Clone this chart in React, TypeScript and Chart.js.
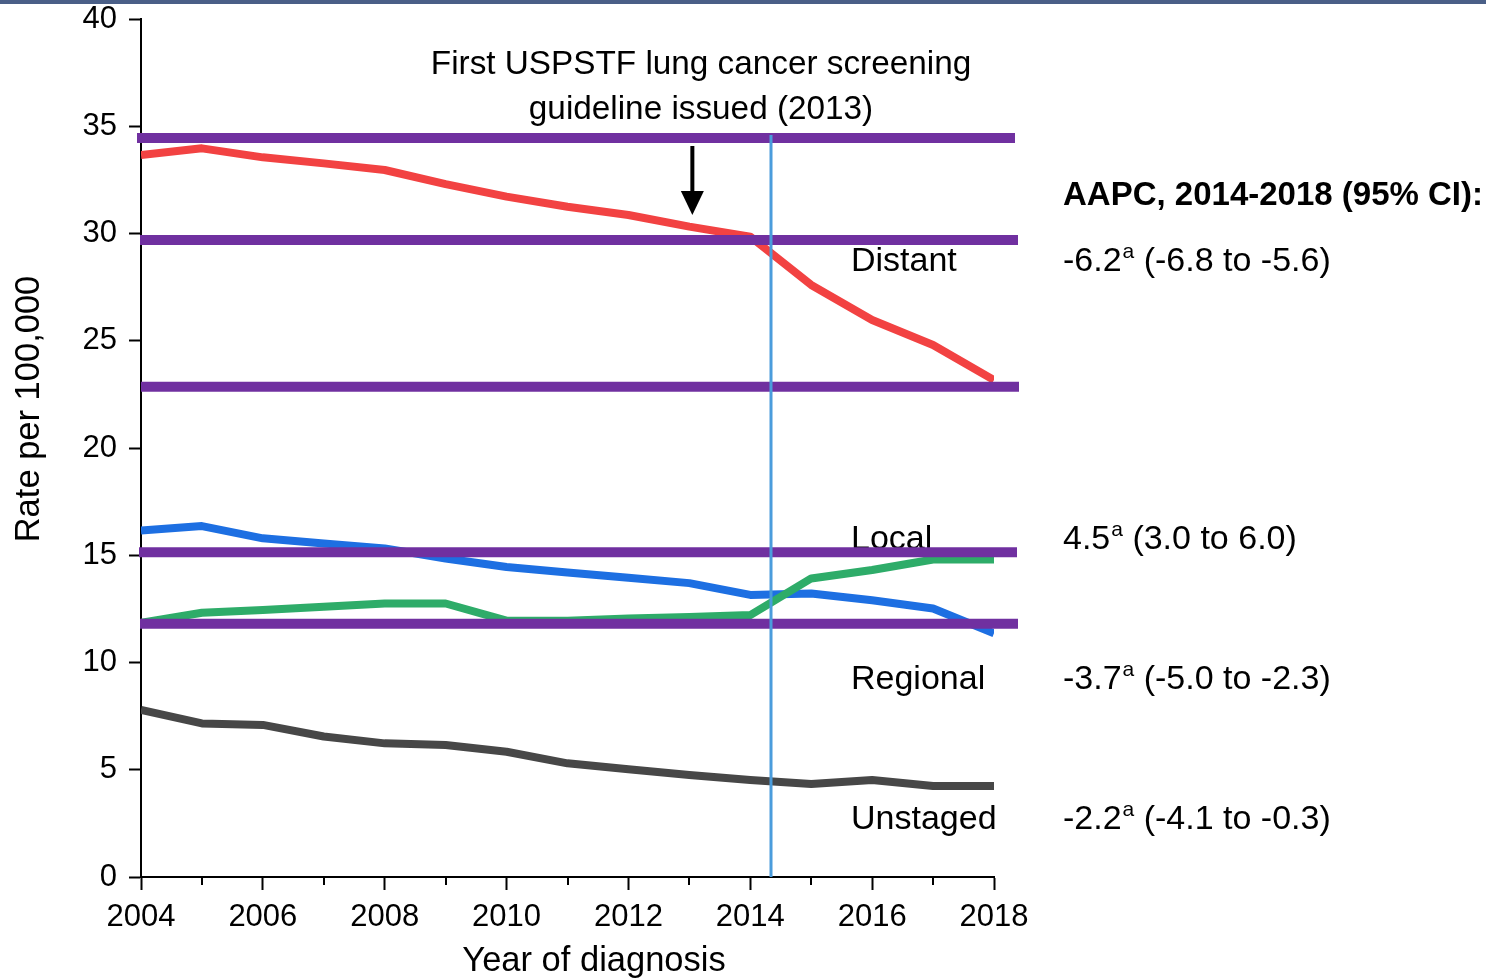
import React, { useEffect, useRef } from "react";
import { Chart, registerables } from "chart.js";

Chart.register(...registerables);

// ---------------- DATA ----------------
const years = [2004, 2005, 2006, 2007, 2008, 2009, 2010, 2011, 2012, 2013, 2014, 2015, 2016, 2017, 2018];
const distant = [33.66, 33.97, 33.55, 33.27, 32.96, 32.3, 31.72, 31.25, 30.86, 30.32, 29.85, 27.6, 25.97, 24.8, 23.17];
const local = [16.15, 16.36, 15.79, 15.55, 15.32, 14.85, 14.45, 14.2, 13.95, 13.7, 13.15, 13.22, 12.9, 12.52, 11.36];
const regional = [11.85, 12.32, 12.45, 12.6, 12.75, 12.75, 11.95, 11.95, 12.05, 12.12, 12.21, 13.92, 14.31, 14.8, 14.8];
const unstaged = [7.79, 7.16, 7.09, 6.55, 6.23, 6.15, 5.84, 5.3, 5.02, 4.76, 4.52, 4.34, 4.52, 4.24, 4.24];

const referenceLevels = [34.45, 29.7, 22.86, 15.14, 11.81];
const markerYear = 2014.34;
const guidelineYear = 2013;

const stageNames = ["Distant", "Local", "Regional", "Unstaged"];
const aapcValues = ["-6.2", "4.5", "-3.7", "-2.2"];
const aapcIntervals = ["(-6.8 to -5.6)", "(3.0 to 6.0)", "(-5.0 to -2.3)", "(-4.1 to -0.3)"];
const aapcHeader = "AAPC, 2014-2018 (95% CI):";
const annotationLines = ["First USPSTF lung cancer screening", "guideline issued (2013)"];
const xTitle = "Year of diagnosis";
const yTitle = "Rate per 100,000";

// ---------------- LAYOUT / STYLE ----------------
const FONT = '"Liberation Sans", Arial, Helvetica, sans-serif';
const TEXT_SIZE = 34;
const NOTE_SIZE = 33.3;
const HEADER_SIZE = 33;
const TITLE_SIZE = 34.5;
const TICK_SIZE = 31;
const STAGE_LABEL_X = 851;
const STAGE_BASELINES = [271, 549, 689, 829];
const RIGHT_TEXT_X = 1063;
const HEADER_BASELINE = 205;
const REF_X: [number, number][] = [
  [137, 1015],
  [140, 1018],
  [141, 1019],
  [139, 1017],
  [140, 1018],
];

const overlayPlugin = {
  id: "overlay",
  afterDatasetsDraw(chart: any) {
    const { ctx, chartArea, scales } = chart;
    const x = scales.x;
    const y = scales.y;
    ctx.save();

    // minor x ticks (odd years)
    ctx.strokeStyle = "#000";
    ctx.lineWidth = 2;
    years.forEach((yr) => {
      if (yr % 2 === 1) {
        const px = Math.round(x.getPixelForValue(yr));
        ctx.beginPath();
        ctx.moveTo(px, chartArea.bottom);
        ctx.lineTo(px, chartArea.bottom + 8);
        ctx.stroke();
      }
    });

    // stage labels (under reference lines)
    ctx.fillStyle = "#000";
    ctx.textAlign = "left";
    ctx.textBaseline = "alphabetic";
    ctx.font = `${TEXT_SIZE}px ${FONT}`;
    stageNames.forEach((s, i) => ctx.fillText(s, STAGE_LABEL_X, STAGE_BASELINES[i]));

    // purple reference lines
    ctx.strokeStyle = "#7030A0";
    ctx.lineWidth = 10;
    referenceLevels.forEach((v, i) => {
      const py = y.getPixelForValue(v);
      ctx.beginPath();
      ctx.moveTo(REF_X[i][0], py);
      ctx.lineTo(REF_X[i][1], py);
      ctx.stroke();
    });

    // vertical marker line
    const mx = x.getPixelForValue(markerYear);
    ctx.strokeStyle = "#4A9CDC";
    ctx.lineWidth = 3;
    ctx.beginPath();
    ctx.moveTo(mx, y.getPixelForValue(referenceLevels[0]) - 3);
    ctx.lineTo(mx, chartArea.bottom);
    ctx.stroke();

    // arrow
    const ax = x.getPixelForValue(guidelineYear) + 3;
    ctx.strokeStyle = "#000";
    ctx.fillStyle = "#000";
    ctx.lineWidth = 4;
    ctx.beginPath();
    ctx.moveTo(ax, 146);
    ctx.lineTo(ax, 193);
    ctx.stroke();
    ctx.beginPath();
    ctx.moveTo(ax - 11.5, 191);
    ctx.lineTo(ax + 11.5, 191);
    ctx.lineTo(ax, 215);
    ctx.closePath();
    ctx.fill();

    // annotation text
    ctx.font = `${NOTE_SIZE}px ${FONT}`;
    ctx.textAlign = "center";
    ctx.fillText(annotationLines[0], 701, 74);
    ctx.fillText(annotationLines[1], 701, 119);

    // right-hand AAPC text
    ctx.textAlign = "left";
    ctx.font = `bold ${HEADER_SIZE}px ${FONT}`;
    ctx.fillText(aapcHeader, RIGHT_TEXT_X, HEADER_BASELINE);
    aapcValues.forEach((val, i) => {
      const base = STAGE_BASELINES[i];
      let cx = RIGHT_TEXT_X;
      ctx.font = `${TEXT_SIZE}px ${FONT}`;
      ctx.fillText(val, cx, base);
      cx += ctx.measureText(val).width;
      ctx.font = `21px ${FONT}`;
      ctx.fillText("a", cx + 1, base - 13);
      cx += ctx.measureText("a").width + 1;
      ctx.font = `${TEXT_SIZE}px ${FONT}`;
      ctx.fillText(" " + aapcIntervals[i], cx, base);
    });

    // axis titles
    ctx.font = `${TITLE_SIZE}px ${FONT}`;
    ctx.textAlign = "center";
    ctx.textBaseline = "alphabetic";
    ctx.fillText(xTitle, 594, 971);
    ctx.save();
    ctx.translate(39, 409);
    ctx.rotate(-Math.PI / 2);
    ctx.fillText(yTitle, 0, 0);
    ctx.restore();

    ctx.restore();
  },
};

export default function App() {
  const canvasRef = useRef<HTMLCanvasElement | null>(null);

  useEffect(() => {
    const canvas = canvasRef.current;
    if (!canvas) return;
    const mk = (label: string, data: number[], color: string, order: number) => ({
      label,
      data: years.map((yr, i) => ({ x: yr, y: data[i] })),
      borderColor: color,
      backgroundColor: color,
      borderWidth: 8,
      pointRadius: 0,
      tension: 0,
      borderJoinStyle: "round" as const,
      clip: 0,
      order,
    });
    const tickFont = { family: FONT, size: TICK_SIZE, lineHeight: 1 };
    const chart = new Chart(canvas, {
      type: "line",
      data: {
        datasets: [
          mk("Regional", regional, "#2EAC69", 0),
          mk("Local", local, "#1D6FE2", 1),
          mk("Distant", distant, "#F24242", 2),
          mk("Unstaged", unstaged, "#474747", 3),
        ],
      },
      options: {
        responsive: false,
        animation: false,
        devicePixelRatio: 1,
        layout: { padding: { left: 0, right: 492, top: 19, bottom: 0 } },
        plugins: { legend: { display: false }, tooltip: { enabled: false }, title: { display: false } },
        scales: {
          x: {
            type: "linear",
            min: 2004,
            max: 2018,
            afterFit: (s: any) => {
              s.height = 103;
              s.paddingLeft = 0;
              s.paddingRight = 0;
            },
            ticks: {
              stepSize: 2,
              autoSkip: false,
              maxRotation: 0,
              color: "#000",
              font: tickFont,
              padding: 12,
              callback: (v: any) => String(v),
            },
            grid: { drawOnChartArea: false, drawTicks: true, tickLength: 13, tickColor: "#000", tickWidth: 2 },
            border: { display: true, color: "#000", width: 2 },
          },
          y: {
            type: "linear",
            min: 0,
            max: 40,
            afterFit: (s: any) => {
              s.width = 141;
              s.paddingTop = 0;
              s.paddingBottom = 0;
            },
            ticks: {
              stepSize: 5,
              color: "#000",
              font: tickFont,
              padding: 12,
              callback: (v: any) => String(v),
            },
            grid: { drawOnChartArea: false, drawTicks: true, tickLength: 12, tickColor: "#000", tickWidth: 2 },
            border: { display: true, color: "#000", width: 2 },
          },
        },
      },
      plugins: [overlayPlugin],
    });
    return () => chart.destroy();
  }, []);

  return (
    <div style={{ position: "fixed", left: 0, top: 0, width: 1486, height: 980, background: "#fff" }}>
      <canvas ref={canvasRef} width={1486} height={980} style={{ position: "absolute", left: 0, top: 0, width: 1486, height: 980 }} />
      <div style={{ position: "absolute", left: 0, top: 0, width: 1486, height: 4, background: "#4A5F87" }} />
    </div>
  );
}
